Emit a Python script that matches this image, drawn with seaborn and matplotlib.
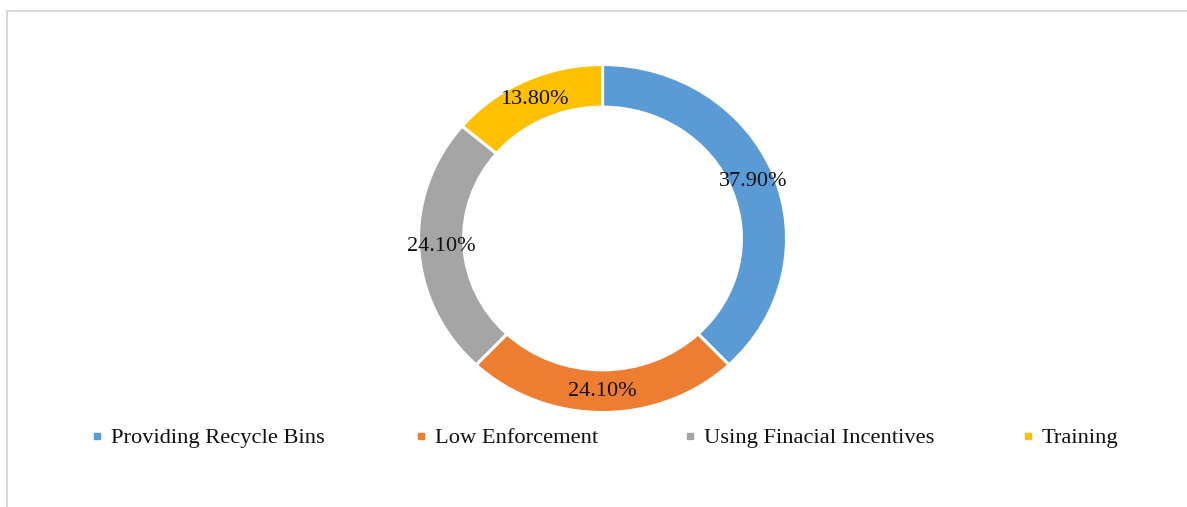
import matplotlib
matplotlib.use('Agg')
import matplotlib.pyplot as plt
import seaborn as sns
from matplotlib.lines import Line2D
from matplotlib.patches import Rectangle

sns.set_theme(style="white")
plt.rcParams['font.family'] = ['Liberation Serif', 'DejaVu Serif']

# data
categories = ['Providing Recycle Bins', 'Low Enforcement',
              'Using Finacial Incentives', 'Training']
shares = [37.9, 24.1, 24.1, 13.8]
colors = ['#5B9BD5', '#ED7D31', '#A5A5A5', '#FFC000']

fig = plt.figure(figsize=(11.87, 5.07), dpi=100)
fig.patch.set_facecolor('white')

# light outer frame like the original chart area
fig.patches.append(Rectangle((7 / 1187, -0.05), 1.1, 1 - 11 / 507 + 0.05,
                             transform=fig.transFigure, fill=False,
                             edgecolor='#d9d9d9', linewidth=1.5))

ax = fig.add_axes([0.3526, 0.1864, 0.310, 0.6864])
wedges, texts, autotexts = ax.pie(
    shares, colors=colors, startangle=90, counterclock=False,
    autopct=lambda p: '', pctdistance=0.88,
    wedgeprops=dict(width=0.245, edgecolor='white', linewidth=2.2))
ax.set_aspect('auto')
ax.set_xlim(-1, 1)
ax.set_ylim(-1, 1)

# labels at the middle of the ring
for t, v in zip(autotexts, shares):
    t.set_text(f'{v:.2f}%')
    t.set_fontsize(16)
    t.set_color('#111111')

# legend entries along the bottom (one per slot, like the original)
slot_x = [91.5, 415.5, 684.5, 1022.5]
for name, col, sx in zip(categories, colors, slot_x):
    h = Line2D([], [], marker='s', linestyle='none', color=col, markersize=5)
    leg = fig.legend([h], [name], loc='center left',
                     bbox_to_anchor=(sx / 1187, 1 - 438 / 507),
                     frameon=False, fontsize=16.2, handlelength=0.5,
                     handletextpad=0.35, borderpad=0, borderaxespad=0)
    for txt in leg.get_texts():
        txt.set_color('#111111')

fig.savefig('out.png', dpi=100, facecolor='white')
plt.close(fig)
